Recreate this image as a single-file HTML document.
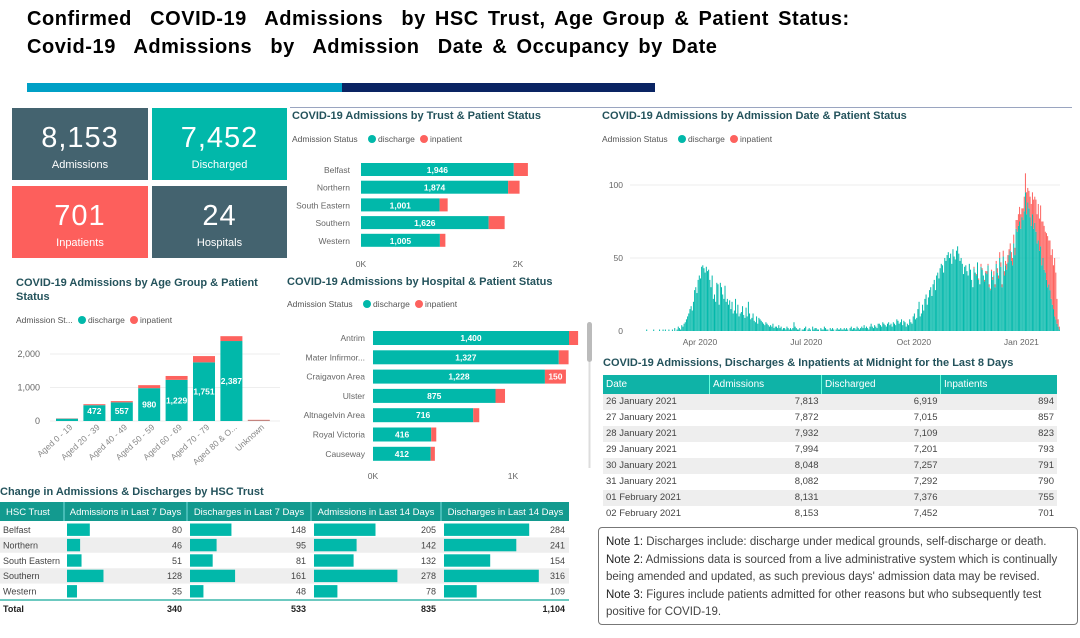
<!DOCTYPE html>
<html><head><meta charset="utf-8"><style>
body{margin:0;width:1080px;height:638px;background:#fff;overflow:hidden;font-family:"Liberation Sans",sans-serif;position:relative}
.abs{position:absolute}
.title{font-weight:bold;font-size:20px;color:#000;left:27px;letter-spacing:0.55px;word-spacing:3px}
.card{position:absolute;color:#fff;text-align:center}
.card .n{font-size:29px;margin-top:14px;letter-spacing:1px}
.card .l{font-size:11px;margin-top:4px}
.ct{position:absolute;font-weight:bold;font-size:11px;color:#24535c}
.tbl{position:absolute;border-collapse:collapse;font-size:9.5px;color:#444}
.tbl td{padding:0 3px;height:16px;line-height:16px}
.note{font-size:11.5px;color:#444;line-height:17.5px}
.note b{font-weight:normal;color:#222}
</style></head><body>
<div class="abs title" style="top:8px">Confirmed&nbsp; COVID-19&nbsp; Admissions&nbsp; by HSC Trust, Age Group &amp; Patient Status:</div>
<div class="abs title" style="top:36px">Covid-19&nbsp; Admissions&nbsp; by&nbsp; Admission&nbsp; Date &amp; Occupancy by Date</div>
<div class="abs" style="left:27px;top:83px;width:315px;height:9px;background:#00a0c6"></div>
<div class="abs" style="left:342px;top:83px;width:313px;height:9px;background:#0a2463"></div>
<div class="abs" style="left:290px;top:107px;width:782px;height:1px;background:#9aa5c0"></div>

<div class="card" style="left:12px;top:108px;width:136px;height:72px;background:#44636f"><div class="n">8,153</div><div class="l">Admissions</div></div>
<div class="card" style="left:152px;top:108px;width:135px;height:72px;background:#01b8aa"><div class="n">7,452</div><div class="l">Discharged</div></div>
<div class="card" style="left:12px;top:186px;width:136px;height:72px;background:#fd5f5c"><div class="n">701</div><div class="l">Inpatients</div></div>
<div class="card" style="left:152px;top:186px;width:135px;height:72px;background:#44636f"><div class="n">24</div><div class="l">Hospitals</div></div>

<div class="ct" style="left:292px;top:110px">COVID-19 Admissions by Trust &amp; Patient Status</div>
<div class="ct" style="left:16px;top:276px;line-height:14px">COVID-19 Admissions by Age Group &amp; Patient<br>Status</div>
<div class="ct" style="left:287px;top:276px">COVID-19 Admissions by Hospital &amp; Patient Status</div>
<div class="ct" style="left:602px;top:110px">COVID-19 Admissions by Admission Date &amp; Patient Status</div>
<div class="ct" style="left:603px;top:357px">COVID-19 Admissions, Discharges &amp; Inpatients at Midnight for the Last 8 Days</div>
<div class="ct" style="left:0px;top:486px">Change in Admissions &amp; Discharges by HSC Trust</div>

<svg id="svg" class="abs" style="left:0;top:0" width="1080" height="638"></svg>

<table class="tbl" style="left:603px;top:375px;width:454px">
<tr style="background:#0fb3a7;color:#fff;font-size:10px"><td style="height:19px;width:100px">Date</td><td style="width:105px;border-left:1px solid #6fd">Admissions</td><td style="width:112px;border-left:1px solid #6fd">Discharged</td><td style="border-left:1px solid #6fd">Inpatients</td></tr>
<tbody id="l8"></tbody></table>

<div class="abs" style="left:598px;top:527px;width:478px;height:96px;border:1px solid #777;border-radius:4px">
<div class="note" style="padding:6px 0 0 7px"><b>Note 1:</b> Discharges include: discharge under medical grounds, self-discharge or death.<br><b>Note 2:</b> Admissions data is sourced from a live administrative system which is continually being amended and updated, as such previous days' admission data may be revised.<br><b>Note 3:</b> Figures include patients admitted for other reasons but who subsequently test positive for COVID-19.</div></div>

<script>
// ---------- data ----------
const trustCats=["Belfast","Northern","South Eastern","Southern","Western"];
const trustDis=[1946,1874,1001,1626,1005];
const trustInp=[180,146,103,204,70];
const trustTicks=["0K","2K"];

const ageCats=["Aged 0 - 19","Aged 20 - 39","Aged 40 - 49","Aged 50 - 59","Aged 60 - 69","Aged 70 - 79","Aged 80 & O...","Unknown"];
const ageDis=[70,472,557,980,1229,1751,2387,10];
const ageInp=[8,30,37,90,115,187,145,25];
const ageLabels=["","472","557","980","1,229","1,751","2,387",""];
const ageTicks=[0,1000,2000];

const hospCats=["Antrim","Mater Infirmor...","Craigavon Area","Ulster","Altnagelvin Area","Royal Victoria","Causeway"];
const hospDis=[1400,1327,1228,875,716,416,412];
const hospInp=[65,70,150,68,43,36,30];
const hospTicks=["0K","1K"];

// daily discharge by month (Feb 2 2020 .. Feb 2 2021)
const dFeb20=[0,0,0,0,0,0,0,0,0,0,0,0,0,1,0,0,0,0,0,1,0,0,0,0,1,0,0,1];
const dMar20=[0,1,0,0,1,0,0,1,0,2,0,1,3,2,1,4,3,5,6,8,10,12,15,17,14,20,28,30,26,35,38];
const dApr20=[36,44,45,43,40,44,41,42,35,30,38,22,25,20,33,32,18,33,30,25,22,31,20,22,18,21,15,20,12,14];
const dMay20=[22,12,18,10,12,13,17,11,9,16,10,20,12,8,9,12,7,6,10,5,9,8,7,6,5,4,6,5,4,3,4];
const dJun20=[3,5,2,3,3,2,4,2,3,1,2,2,1,3,2,1,2,1,2,6,3,2,1,1,2,0,1,1,2,3];
const dJul20=[0,1,2,1,0,3,1,2,2,1,1,0,2,1,1,3,2,1,1,0,2,1,2,1,0,1,2,1,1,2,1];
const dAug20=[1,2,1,2,1,0,2,3,1,2,2,1,3,2,1,2,3,2,4,2,3,2,1,3,5,3,2,4,3,2,5];
const dSep20=[5,4,3,6,5,4,3,5,6,4,5,3,6,5,4,8,7,5,6,8,4,7,6,3,5,4,8,6,5,10];
const dOct20=[12,8,9,15,20,10,12,18,14,22,25,18,23,28,30,24,32,35,28,38,40,36,43,46,45,40,50,48,52,54,50];
const dNov20=[53,46,56,51,49,55,58,53,48,50,46,39,44,45,41,38,46,42,35,30,43,40,38,47,35,32,44,42,38,34];
const dDec20=[40,39,45,30,28,41,35,38,30,46,40,36,50,44,30,51,38,45,42,47,52,55,48,45,60,52,70,68,72,75,70];
const dJan21=[78,76,82,95,80,88,84,78,72,80,70,74,68,60,62,55,58,45,50,42,40,35,30,32,28,22,18,15,10,8,5];
const dFeb21=[3,1];
// daily inpatient (only non-zero from Nov 2020)
const iNov20=[0,0,0,0,0,0,0,0,0,0,0,0,0,0,0,0,0,0,0,0,1,0,1,0,1,0,2,1,0,1];
const iDec20=[1,2,1,2,1,1,2,3,2,2,3,2,4,3,2,4,3,3,4,5,4,5,6,5,6,5,6,8,8,10,10];
const iJan21=[6,8,10,13,15,10,12,14,15,15,20,18,22,20,25,22,28,30,25,30,28,32,35,30,34,30,38,30,40,32,17];
const iFeb21=[5,2];
const dateTicks=[0,50,100];
const dateMonthLabels=["Apr 2020","Jul 2020","Oct 2020","Jan 2021"];
const dateMonthDays=[59,150,242,334];

const l8Dates=["26 January 2021","27 January 2021","28 January 2021","29 January 2021","30 January 2021","31 January 2021","01 February 2021","02 February 2021"];
const l8Adm=["7,813","7,872","7,932","7,994","8,048","8,082","8,131","8,153"];
const l8Dis=["6,919","7,015","7,109","7,201","7,257","7,292","7,376","7,452"];
const l8Inp=["894","857","823","793","791","790","755","701"];

const chTrusts=["Belfast","Northern","South Eastern","Southern","Western"];
const chAdm7=[80,46,51,128,35];
const chDis7=[148,95,81,161,48];
const chAdm14=[205,142,132,278,78];
const chDis14=[284,241,154,316,109];
const chTotals=["340","533","835","1,104"];
const chHeaders=["Admissions in Last 7 Days","Discharges in Last 7 Days","Admissions in Last 14 Days","Discharges in Last 14 Days"];

// ---------- helpers ----------
const NS="http://www.w3.org/2000/svg";
const svg=document.getElementById('svg');
const TEAL="#01b8aa",RED="#fd625e";
function mk(tag,attrs,parent){const e=document.createElementNS(NS,tag);for(const k in attrs)e.setAttribute(k,attrs[k]);(parent||svg).appendChild(e);return e;}
function txt(x,y,s,attrs){const e=mk('text',Object.assign({x:x,y:y,'font-size':9,fill:'#666','font-family':'Liberation Sans, sans-serif'},attrs||{}));e.textContent=s;return e;}
function legend(x,y,label){
  const g=mk('g',{});
  
  
  txt(x,y,label,{fill:'#555','font-size':8.5},);
  const o=x+(label.startsWith("Admission St...")?66:80);
  mk('circle',{cx:o,cy:y-3,r:4,fill:TEAL},g);
  txt(o+6,y,"discharge",{fill:'#555','font-size':8.5});
  mk('circle',{cx:o+52,cy:y-3,r:4,fill:RED},g);
  txt(o+58,y,"inpatient",{fill:'#555','font-size':8.5});
}

// ---------- trust chart ----------
legend(292,142,"Admission Status");
(function(){
  const x0=361,k=157/2000,y0=163,step=17.7,h=13;
  const xs=v=>x0+v*k;
  trustCats.forEach((c,i)=>{
    const y=y0+i*step;
    txt(350,y+10,c,{'text-anchor':'end','font-size':8.5});
    const b=mk('rect',{x:x0,y:y,width:xs(trustDis[i])-x0,height:h,fill:TEAL});
    
    
    const r=mk('rect',{x:xs(trustDis[i]),y:y,width:trustInp[i]*k,height:h,fill:RED});
    
    
    txt((x0+xs(trustDis[i]))/2,y+10,trustDis[i].toLocaleString('en-US'),{'text-anchor':'middle',fill:'#fff','font-size':8.5,'font-weight':'bold'});
  });
  trustTicks.forEach((t,i)=>txt(xs(i*2000),267,t,{'text-anchor':'middle','font-size':8.5}));
})();

// ---------- age chart ----------
legend(16,323,"Admission St...");
(function(){
  const y0=421,k=33.5/1000,x0=67,step=27.4,w=22;
  const ys=v=>y0-v*k;
  ageTicks.forEach(t=>{
    mk('line',{x1:50,x2:280,y1:ys(t),y2:ys(t),stroke:'#eee'});
    txt(40,ys(t)+3,t.toLocaleString('en-US'),{'text-anchor':'end','font-size':9});
  });
  ageCats.forEach((c,i)=>{
    const cx=x0+i*step;
    const b=mk('rect',{x:cx-w/2,y:ys(ageDis[i]),width:w,height:ageDis[i]*k,fill:TEAL});
    
    
    const r=mk('rect',{x:cx-w/2,y:ys(ageDis[i]+ageInp[i]),width:w,height:ageInp[i]*k,fill:RED});
    
    
    if(ageLabels[i])txt(cx,Math.min(ys(ageDis[i]/2)+3,414),ageLabels[i],{'text-anchor':'middle',fill:'#fff','font-size':8.5,'font-weight':'bold'});
    txt(cx+6,428,c,{'text-anchor':'end','font-size':8.5,fill:'#888',transform:`rotate(-42 ${cx+6} 428)`});
  });
})();

// ---------- hospital chart ----------
legend(287,307,"Admission Status");
(function(){
  const x0=373,k=140/1000,y0=331,step=19.3,h=14;
  const xs=v=>x0+v*k;
  hospCats.forEach((c,i)=>{
    const y=y0+i*step;
    txt(365,y+10,c,{'text-anchor':'end','font-size':8.5});
    const b=mk('rect',{x:x0,y:y,width:xs(hospDis[i])-x0,height:h,fill:TEAL});
    
    
    const r=mk('rect',{x:xs(hospDis[i]),y:y,width:hospInp[i]*k,height:h,fill:RED});
    
    
    txt((x0+xs(hospDis[i]))/2,y+10,hospDis[i].toLocaleString('en-US'),{'text-anchor':'middle',fill:'#fff','font-size':8.5,'font-weight':'bold'});
    if(hospInp[i]>=100)txt(xs(hospDis[i])+hospInp[i]*k/2,y+10,String(hospInp[i]),{'text-anchor':'middle',fill:'#fff','font-size':8.5,'font-weight':'bold'});
  });
  hospTicks.forEach((t,i)=>txt(xs(i*1000),479,t,{'text-anchor':'middle','font-size':8.5}));
  const sb=mk('rect',{x:587,y:322,width:5,height:40,rx:2.5,fill:'#bbb'});
  
  
  mk('line',{x1:589.5,x2:589.5,y1:362,y2:468,stroke:'#ddd','stroke-width':2});
})();

// ---------- date chart ----------
legend(602,142,"Admission Status");
(function(){
  const dis=[].concat(dFeb20,dMar20,dApr20,dMay20,dJun20,dJul20,dAug20,dSep20,dOct20,dNov20,dDec20,dJan21,dFeb21);
  const inpTail=[].concat(iNov20,iDec20,iJan21,iFeb21);
  const inpStart=dis.length-inpTail.length;
  const x0=631,x1=1060,y0=331,k=73/50;
  const dx=(x1-x0)/dis.length;
  const xs=i=>x0+i*dx, ys=v=>y0-v*k;
  dateTicks.forEach(t=>{
    if(t>0)mk('line',{x1:630,x2:1060,y1:ys(t),y2:ys(t),stroke:'#eee'});
    txt(623,ys(t)+3,String(t),{'text-anchor':'end','font-size':8.5});
  });
  dis.forEach((v,i)=>{
    const inp=i>=inpStart?inpTail[i-inpStart]:0;
    if(v>0){const b=mk('rect',{x:xs(i),y:ys(v),width:dx*0.85,height:v*k,fill:TEAL});
      
      }
    if(inp>0){const r=mk('rect',{x:xs(i),y:ys(v+inp),width:dx*0.85,height:inp*k,fill:RED});
      
      }
  });
  dateMonthLabels.forEach((m,i)=>txt(xs(dateMonthDays[i]),345,m,{'text-anchor':'middle','font-size':8.5}));
})();

// ---------- last 8 days table ----------
(function(){
  const tb=document.getElementById('l8');
  l8Dates.forEach((d,i)=>{
    const tr=document.createElement('tr');
    
    
    if(i%2==0)tr.style.background='#eee';
    tr.innerHTML=`<td>${d}</td><td style="text-align:right">${l8Adm[i]}</td><td style="text-align:right">${l8Dis[i]}</td><td style="text-align:right">${l8Inp[i]}</td>`;
    tb.appendChild(tr);
  });
})();

// ---------- change table ----------
(function(){
  const cols=[[65,186,chAdm7,0.285],[188,310,chDis7,0.28],[312,440,chAdm14,0.30],[442,569,chDis14,0.30]];
  const hy=502,hh=19,ry=522,rh=15.4;
  const hd=mk('rect',{x:0,y:hy,width:569,height:hh,fill:'#139a8f'});
  
  
  txt(6,hy+13,"HSC Trust",{fill:'#fff','font-size':9.5});
  cols.forEach((c,j)=>{
    mk('line',{x1:c[0]-1,x2:c[0]-1,y1:hy,y2:hy+hh,stroke:'#7dd'});
    txt((c[0]+c[1])/2,hy+13,chHeaders[j],{fill:'#fff','font-size':9.5,'text-anchor':'middle'});
  });
  chTrusts.forEach((t,i)=>{
    const y=ry+i*rh;
    if(i%2==1)mk('rect',{x:0,y:y,width:569,height:rh,fill:'#eee'});
    txt(3,y+11,t,{'font-size':9,fill:'#444'});
    cols.forEach(c=>{
      const v=c[2][i];
      const b=mk('rect',{x:c[0]+2,y:y+1.5,width:v*c[3],height:rh-3,fill:TEAL});
      
      
      txt(c[1]-4,y+11,String(v),{'font-size':9,fill:'#444','text-anchor':'end'});
    });
  });
  mk('line',{x1:0,x2:569,y1:ry+5*rh+1,y2:ry+5*rh+1,stroke:'#6cc9c0','stroke-width':2});
  txt(3,612,"Total",{'font-size':9,fill:'#222','font-weight':'bold'});
  cols.forEach((c,j)=>txt(c[1]-4,612,chTotals[j],{'font-size':9,fill:'#222','font-weight':'bold','text-anchor':'end'}));
})();
</script>
</body></html>
